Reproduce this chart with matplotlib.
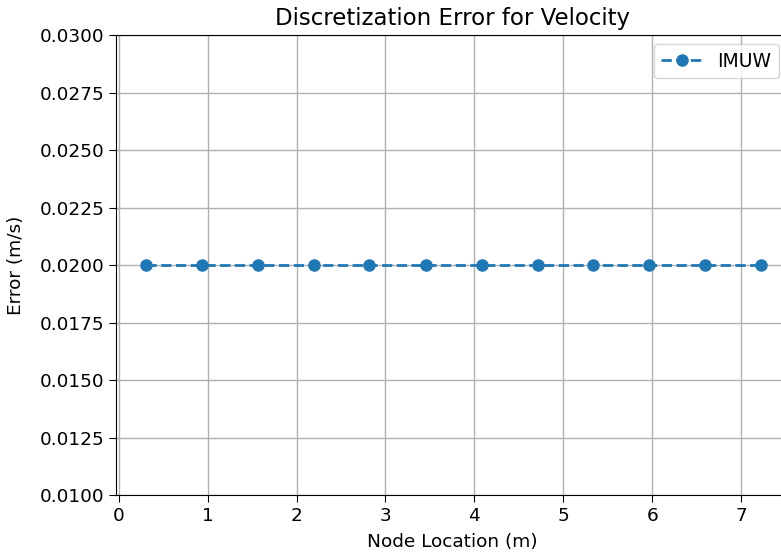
import matplotlib
matplotlib.use('Agg')
import matplotlib.pyplot as plt
import numpy as np

# node locations (m) and velocity discretization error (m/s)
node_x = [0.31, 0.94, 1.57, 2.20, 2.82, 3.45, 4.08, 4.71, 5.33, 5.96, 6.59, 7.22]
err_imuw = [0.02, 0.02, 0.02, 0.02, 0.02, 0.02, 0.02, 0.02, 0.02, 0.02, 0.02, 0.02]

x_ticks = [0, 1, 2, 3, 4, 5, 6, 7]
y_ticks = [0.0100, 0.0125, 0.0150, 0.0175, 0.0200, 0.0225, 0.0250, 0.0275, 0.0300]


def main():
    fig = plt.figure(figsize=(7.81, 5.54), dpi=100)
    ax = fig.add_axes([0.1485, 0.1065, 0.861, 0.8303])

    ax.plot(node_x, err_imuw, 'o--', color='#1f77b4', lw=2, ms=8, label='IMUW')

    ax.set_xlim(-0.03, 7.53)
    ax.set_ylim(0.01, 0.03)
    ax.set_xticks(x_ticks)
    ax.set_yticks(y_ticks)
    ax.set_yticklabels(['%.4f' % v for v in y_ticks])
    ax.tick_params(labelsize=13.3, length=5)
    ax.grid(True, color='#b0b0b0', lw=1.0)

    ax.set_title('Discretization Error for Velocity', fontsize=16.5, pad=7)
    ax.set_xlabel('Node Location (m)', fontsize=13.3, labelpad=6)
    ax.set_ylabel('Error (m/s)', fontsize=13.3, labelpad=10)
    ax.legend(loc='upper right', fontsize=13.5, handlelength=2.2)

    fig.savefig('out.png', dpi=100)


main()
